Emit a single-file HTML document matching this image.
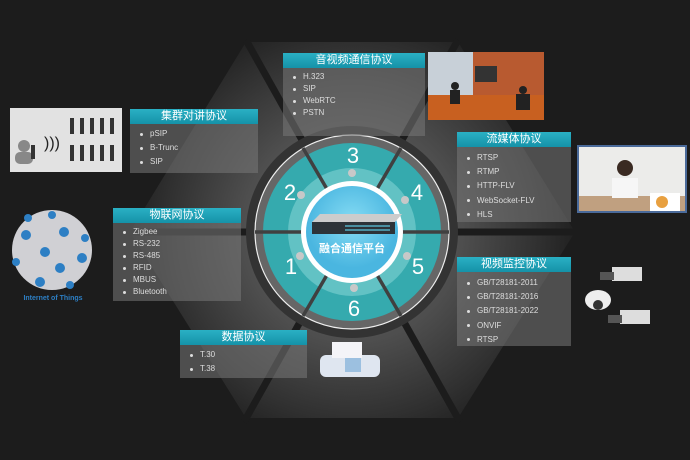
<!DOCTYPE html>
<html><head><meta charset="utf-8"><style>
html,body{margin:0;padding:0;}
body{width:690px;height:460px;overflow:hidden;background:#1c1c1c;position:relative;font-family:"Liberation Sans","Noto Sans CJK SC",sans-serif;}
.box{position:absolute;}
.h{background:linear-gradient(#2ab0c4,#1592a8);color:#fff;font-size:11px;text-align:center;height:15px;line-height:15px;}
.b{background:rgba(120,120,120,0.55);color:#ddd;font-size:7.5px;padding:3px 0 0 10px;box-sizing:border-box;}
.b div{position:relative;padding-left:10px;}
.b div:before{content:"";position:absolute;left:0;top:50%;width:3px;height:3px;margin-top:-1.5px;border-radius:50%;background:#ddd;}
</style></head><body>
<svg width="690" height="460" style="position:absolute;left:0;top:0">
<defs>
<radialGradient id="hg" cx="352" cy="232" r="220" gradientUnits="userSpaceOnUse">
<stop offset="0" stop-color="#707070"/><stop offset="0.5" stop-color="#4e4e4e"/><stop offset="0.85" stop-color="#303030"/><stop offset="1" stop-color="#222"/></radialGradient>
<radialGradient id="cb" cx="352" cy="222" r="46" gradientUnits="userSpaceOnUse">
<stop offset="0" stop-color="#86dcf4"/><stop offset="1" stop-color="#4ab6e0"/></radialGradient>
</defs>
<polygon points="246,42 458,42 575,232 458,418 246,418 130,232" fill="url(#hg)"/>
<g stroke="#1c1c1c" stroke-width="7">
<line x1="120" y1="232" x2="585" y2="232"/>
<line x1="246" y1="40" x2="460" y2="422"/>
<line x1="458" y1="40" x2="244" y2="422"/>
</g>
<circle cx="352" cy="232" r="106" fill="#333"/>
<circle cx="352" cy="232" r="97" fill="#666" stroke="#eee" stroke-width="1.2"/>
<circle cx="352" cy="232" r="89" fill="#35aaae"/>
<circle cx="352" cy="232" r="64" fill="#62c2c4"/>
<g stroke="#404040" stroke-width="3.5">
<line x1="255" y1="232" x2="449" y2="232"/>
<line x1="303" y1="148" x2="401" y2="316"/>
<line x1="401" y1="148" x2="303" y2="316"/>
</g>
<circle cx="352" cy="232" r="51" fill="#fff"/>
<circle cx="352" cy="232" r="46" fill="url(#cb)"/>
<g fill="#fff" font-family="Liberation Sans,sans-serif" font-size="22" text-anchor="middle">
<text x="353" y="163">3</text><text x="290" y="200">2</text><text x="417" y="200">4</text>
<text x="291" y="274">1</text><text x="418" y="274">5</text><text x="354" y="316">6</text>
</g>
<g fill="#c8c8c8">
<circle cx="352" cy="173" r="4"/><circle cx="301" cy="195" r="4"/><circle cx="405" cy="200" r="4"/>
<circle cx="300" cy="256" r="4"/><circle cx="407" cy="256" r="4"/><circle cx="354" cy="288" r="4"/>
</g>
<polygon points="312,222 320,214 402,214 395,222" fill="#ccc"/>
<rect x="312" y="222" width="83" height="12" fill="#2d3338"/>
<g fill="#4a8fa0"><rect x="345" y="225" width="45" height="2"/><rect x="345" y="229" width="45" height="2"/></g>
<text x="352" y="252" fill="#fff" font-size="11" font-weight="bold" text-anchor="middle" font-family="Liberation Sans,Noto Sans CJK SC,sans-serif">融合通信平台</text>
<!-- meeting photo -->
<rect x="428" y="52" width="116" height="68" fill="#b85a30"/>
<rect x="428" y="52" width="45" height="68" fill="#c8d0d8"/>
<rect x="475" y="66" width="22" height="16" fill="#333"/>
<rect x="428" y="95" width="116" height="25" fill="#c86020"/>
<g fill="#222"><circle cx="455" cy="86" r="4"/><rect x="450" y="90" width="10" height="14"/><circle cx="523" cy="90" r="4"/><rect x="516" y="94" width="14" height="16"/></g>
<!-- woman photo -->
<rect x="577" y="145" width="110" height="68" fill="#4a6a9a"/>
<rect x="579" y="147" width="106" height="64" fill="#ececea"/>
<rect x="579" y="196" width="106" height="15" fill="#c0a080"/>
<circle cx="625" cy="168" r="8" fill="#3a2a22"/><rect x="612" y="178" width="26" height="20" fill="#f6f6f6"/>
<rect x="650" y="193" width="30" height="18" fill="#fff"/>
<circle cx="662" cy="202" r="6" fill="#e8a040"/>
<!-- walkie talkie -->
<rect x="10" y="108" width="112" height="64" fill="#e2e2e2"/>
<circle cx="24" cy="146" r="6" fill="#888"/><rect x="15" y="152" width="18" height="12" rx="5" fill="#888"/>
<rect x="31" y="145" width="4" height="14" fill="#333"/>
<g fill="#333"><rect x="80" y="118" width="4" height="16"/><rect x="90" y="118" width="4" height="16"/><rect x="100" y="118" width="4" height="16"/><rect x="110" y="118" width="4" height="16"/><rect x="70" y="118" width="4" height="16"/>
<rect x="80" y="145" width="4" height="16"/><rect x="90" y="145" width="4" height="16"/><rect x="100" y="145" width="4" height="16"/><rect x="110" y="145" width="4" height="16"/><rect x="70" y="145" width="4" height="16"/></g>
<text x="44" y="148" fill="#222" font-size="16">)))</text>
<!-- IoT -->
<circle cx="52" cy="250" r="40" fill="#d0d0d4"/>
<g fill="#2d7fc4"><circle cx="26" cy="235" r="5"/><circle cx="64" cy="232" r="5"/><circle cx="45" cy="252" r="5"/><circle cx="82" cy="258" r="5"/><circle cx="40" cy="282" r="5"/><circle cx="60" cy="268" r="5"/><circle cx="16" cy="262" r="4"/><circle cx="52" cy="215" r="4"/><circle cx="85" cy="238" r="4"/><circle cx="70" cy="285" r="4"/><circle cx="28" cy="218" r="4"/></g>
<text x="53" y="300" fill="#2d7fc4" font-size="7" font-weight="bold" text-anchor="middle">Internet of Things</text>
<!-- cameras -->
<rect x="612" y="267" width="30" height="14" fill="#ddd"/><rect x="600" y="272" width="14" height="8" fill="#555"/>
<ellipse cx="598" cy="300" rx="13" ry="10" fill="#eee"/><circle cx="598" cy="305" r="5" fill="#333"/>
<rect x="620" y="310" width="30" height="14" fill="#ddd"/><rect x="608" y="315" width="14" height="8" fill="#555"/>
<!-- fax -->
<rect x="320" y="355" width="60" height="22" rx="6" fill="#dfe6f0"/><rect x="332" y="342" width="30" height="16" fill="#f4f4f8"/>
<rect x="345" y="358" width="16" height="14" fill="#9cc0e0"/>
</svg>
<div class="box" style="left:283px;top:53px;width:142px"><div class="h">音视频通信协议</div><div class="b" style="height:68px;line-height:12px;font-size:8px"><div>H.323</div><div>SIP</div><div>WebRTC</div><div>PSTN</div></div></div>
<div class="box" style="left:130px;top:109px;width:128px"><div class="h">集群对讲协议</div><div class="b" style="height:49px;line-height:14px;font-size:8px"><div>pSIP</div><div>B-Trunc</div><div>SIP</div></div></div>
<div class="box" style="left:457px;top:132px;width:114px"><div class="h">流媒体协议</div><div class="b" style="height:75px;line-height:14.2px;font-size:8px;padding-top:4px"><div>RTSP</div><div>RTMP</div><div>HTTP-FLV</div><div>WebSocket-FLV</div><div>HLS</div></div></div>
<div class="box" style="left:113px;top:208px;width:128px"><div class="h">物联网协议</div><div class="b" style="height:78px;line-height:12px;font-size:8px"><div>Zigbee</div><div>RS-232</div><div>RS-485</div><div>RFID</div><div>MBUS</div><div>Bluetooth</div></div></div>
<div class="box" style="left:457px;top:257px;width:114px"><div class="h">视频监控协议</div><div class="b" style="height:74px;line-height:14.2px;font-size:8px;padding-top:4px"><div>GB/T28181-2011</div><div>GB/T28181-2016</div><div>GB/T28181-2022</div><div>ONVIF</div><div>RTSP</div></div></div>
<div class="box" style="left:180px;top:330px;width:127px"><div class="h">数据协议</div><div class="b" style="height:33px;line-height:14px;font-size:8px"><div>T.30</div><div>T.38</div></div></div>
</body></html>
